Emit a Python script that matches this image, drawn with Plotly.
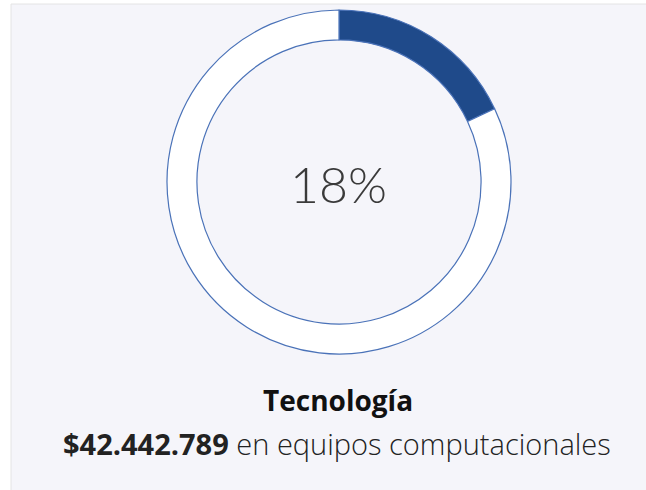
import plotly.graph_objects as go

W, H = 646, 490
labels = ["Tecnología", "Resto"]
values = [18, 82]
colors = ["#1f4a8a", "#ffffff"]
center_text = "18%"
title_text = "Tecnología"
amount_text = "$42.442.789"
detail_text = "en equipos computacionales"

def px(x):
    return x / W

def py(y):
    return 1 - y / H

fig = go.Figure()
fig.add_trace(go.Pie(
    labels=labels, values=values, sort=False, direction="clockwise", rotation=0,
    hole=0.826, textinfo="none", hoverinfo="skip", showlegend=False,
    marker=dict(colors=colors, line=dict(color="#4a72b8", width=1.2)),
    domain=dict(x=[px(167), px(511)], y=[py(354), py(10)]),
))

fig.add_shape(type="rect", xref="paper", yref="paper",
              x0=px(11), x1=px(W + 5), y0=py(H + 5), y1=py(4),
              fillcolor="#f5f5fa", line=dict(color="#e4e4e4", width=1), layer="below")

fig.add_annotation(x=px(338), y=py(184), xref="paper", yref="paper", text=center_text,
                   showarrow=False, font=dict(family="Lato", size=50, color="#3a3a3a", weight=300))
fig.add_annotation(x=px(338), y=py(421), xref="paper", yref="paper", text=f"<b>{title_text}</b>",
                   showarrow=False, font=dict(family="Open Sans", size=28, color="#111111"))
fig.add_annotation(x=px(337), y=py(465), xref="paper", yref="paper",
                   text=f"<b>{amount_text}</b> {detail_text}",
                   showarrow=False, font=dict(family="Open Sans", size=29, color="#222222", weight=300))

fig.update_layout(width=W, height=H, margin=dict(l=0, r=0, t=0, b=0),
                  paper_bgcolor="#ffffff", plot_bgcolor="#ffffff")
fig.write_html("out.html", config={"displayModeBar": False},
               post_script="document.body.style.margin='0';document.body.style.padding='0';")
